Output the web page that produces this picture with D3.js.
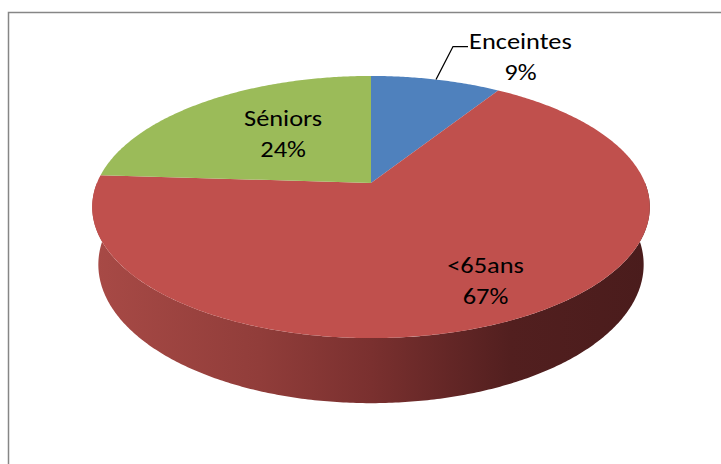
<!DOCTYPE html>
<html>
<head>
<meta charset="utf-8">
<script src="https://cdn.jsdelivr.net/npm/d3@7"></script>
<style>
  body { margin: 0; background: #fff; }
  svg { display: block; }
  text { font-family: Carlito, Calibri, Lato, sans-serif; font-size: 22px; fill: #000; }
</style>
</head>
<body>
<svg id="chart" width="721" height="464"></svg>
<script>
// data
const categories = ["Enceintes", "<65ans", "Séniors"];
const values = [9, 67, 24];
const pctLabels = ["9%", "67%", "24%"];
const colors = ["#4f81bd", "#c0504d", "#9bbb59"];

const svg = d3.select("#chart");

// chart frame (runs off the right and bottom of the window)
svg.append("rect")
    .attr("x", 8.5).attr("y", 12.5)
    .attr("width", 760).attr("height", 500)
    .attr("fill", "none")
    .attr("stroke", "#868686")
    .attr("stroke-width", 1.5);

// perspective projection of the tilted pie
const cx = 371, cy = 183;
const tilt = 27 * Math.PI / 180, cosT = Math.cos(tilt), sinT = Math.sin(tilt);
const dist = 4.86, kx = 1332, ky = 1356, thick = 0.233;

function project(theta, r, y) {
    const X = r * Math.sin(theta), Z = r * Math.cos(theta);
    const d = dist + Z * cosT - y * sinT;
    return [cx + kx * X / d, cy - ky * (y * cosT + Z * sinT) / d];
}

function arcPoints(a0, a1, y) {
    const n = Math.max(2, Math.ceil((a1 - a0) / 0.01));
    return d3.range(n + 1).map(i => project(a0 + (a1 - a0) * i / n, 1, y));
}

const pie = d3.pie().sort(null).value(d => d)(values);
const line = d3.line();

// side shading
const defs = svg.append("defs");
const grad = defs.append("linearGradient")
    .attr("id", "sideGrad")
    .attr("gradientUnits", "userSpaceOnUse")
    .attr("x1", 92).attr("x2", 650).attr("y1", 0).attr("y2", 0);
grad.selectAll("stop")
    .data([[0, "#a84a46"], [0.3, "#913d3a"], [0.5, "#7a302f"], [0.75, "#521f1f"], [1, "#4a1c1c"]])
    .enter().append("stop")
    .attr("offset", d => d[0])
    .attr("stop-color", d => d[1]);

// front wall, only the part facing us
pie.forEach(s => {
    const a0 = Math.max(s.startAngle, Math.PI / 2);
    const a1 = Math.min(s.endAngle, 3 * Math.PI / 2);
    if (a1 <= a0) return;
    const pts = arcPoints(a0, a1, 0).concat(arcPoints(a0, a1, -thick).reverse());
    svg.append("path")
        .attr("d", line(pts) + "Z")
        .attr("fill", "url(#sideGrad)");
});

// top faces
svg.append("g").selectAll("path")
    .data(pie)
    .enter().append("path")
    .attr("d", s => line([[cx, cy]].concat(arcPoints(s.startAngle, s.endAngle, 0))) + "Z")
    .attr("fill", (s, i) => colors[i]);

// data labels (the source font is a little stretched sideways)
const textStretch = 1.2;
const labelLayout = {
    "Séniors": { r: 0.5 },
    "<65ans": { r: 0.8 },
    "Enceintes": { leader: [17, -33, 15] }
};

function twoLineLabel(x, y, a, b) {
    const t = svg.append("text")
        .attr("text-anchor", "middle")
        .attr("transform", `translate(${x},${y}) scale(${textStretch},1)`);
    t.append("tspan").attr("x", 0).attr("y", 0).text(a);
    t.append("tspan").attr("x", 0).attr("y", 31).text(b);
    return t;
}

pie.forEach((s, i) => {
    const mid = (s.startAngle + s.endAngle) / 2;
    const lay = labelLayout[categories[i]];
    if (lay.leader) {
        const p0 = project(mid, 1, 0);
        const p1 = [p0[0] + lay.leader[0], p0[1] + lay.leader[1]];
        const p2 = [p1[0] + lay.leader[2], p1[1]];
        svg.append("path")
            .attr("d", line([p0, p1, p2]))
            .attr("fill", "none")
            .attr("stroke", "#000")
            .attr("stroke-width", 1.3);
        const t = twoLineLabel(0, 0, categories[i], pctLabels[i]);
        const w = t.select("tspan").node().getComputedTextLength() * textStretch;
        t.attr("transform", `translate(${p2[0] + 1 + w / 2},${p1[1] + 2}) scale(${textStretch},1)`);
    } else {
        const p = project(mid, lay.r, 0);
        twoLineLabel(p[0], p[1] - 14, categories[i], pctLabels[i]);
    }
});
</script>
</body>
</html>
